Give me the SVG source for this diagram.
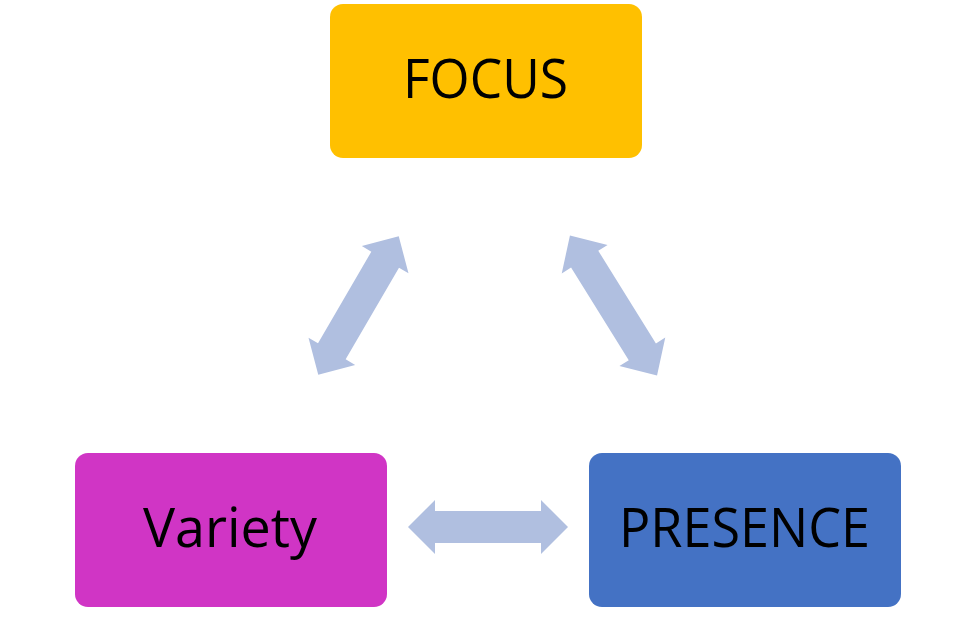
<svg xmlns="http://www.w3.org/2000/svg" width="967" height="623" viewBox="0 0 967 623">
  <defs>
    <path id="dbl" d="M-80,0 L-53,-27 L-53,-16 L53,-16 L53,-27 L80,0 L53,27 L53,16 L-53,16 L-53,27 Z"/>
  </defs>
  <style>
    .lbl { font-family: "Open Sans", "Liberation Sans", sans-serif; font-size: 54px; fill: #000; }
    .arr { fill: #B0BFE0; }
  </style>
  <rect width="967" height="623" fill="#FFFFFF"/>
  <g id="connectors">
    <use href="#dbl" class="arr" transform="translate(358.5,305.5) rotate(-59.8)"/>
    <use href="#dbl" class="arr" transform="translate(613.5,305.5) rotate(58.1) scale(1.03,1)"/>
    <use href="#dbl" class="arr" transform="translate(488,527)"/>
  </g>
  <g id="focus">
    <rect x="330" y="4" width="312" height="154" rx="13" fill="#FFC000"/>
    <text class="lbl" x="403" y="98" textLength="165" lengthAdjust="spacingAndGlyphs">FOCUS</text>
  </g>
  <g id="variety">
    <rect x="75" y="453" width="312" height="154" rx="13" fill="#D035C5"/>
    <text class="lbl" x="143" y="547" textLength="174" lengthAdjust="spacingAndGlyphs">Variety</text>
  </g>
  <g id="presence">
    <rect x="589" y="453" width="312" height="154" rx="13" fill="#4472C4"/>
    <text class="lbl" x="619" y="547" textLength="251" lengthAdjust="spacingAndGlyphs">PRESENCE</text>
  </g>
</svg>
